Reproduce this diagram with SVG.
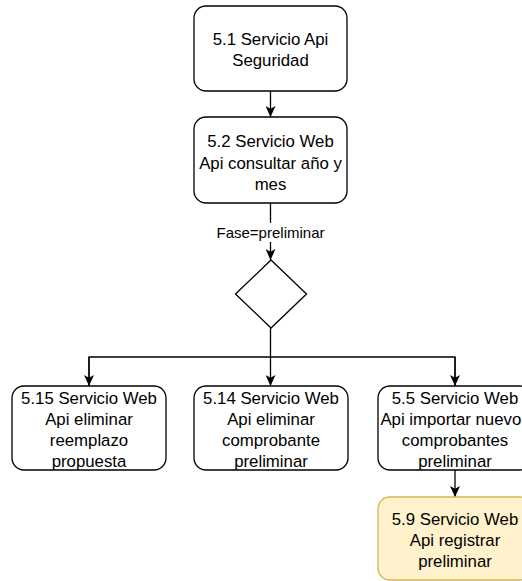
<svg xmlns="http://www.w3.org/2000/svg" width="522" height="581" viewBox="0 0 522 581">
<style>
.box{fill:#ffffff;stroke:#000000;stroke-width:1.3}
.yel{fill:#fff2cc;stroke:#d6b656;stroke-width:1.3}
.t{font-family:"Liberation Sans",Arial,Helvetica,sans-serif;font-size:16.8px;fill:#000000;text-anchor:middle}
.lbl{font-family:"Liberation Sans",Arial,Helvetica,sans-serif;font-size:15px;fill:#000000;text-anchor:middle}
.c{fill:none;stroke:#000000;stroke-width:1.3}
</style>
<defs>
<marker id="arr" viewBox="0 0 11 10" refX="11" refY="5" markerWidth="11" markerHeight="10" orient="auto" markerUnits="userSpaceOnUse">
<path d="M0,0 L11,5 L0,10 L2.8,5 Z" fill="#000000"/>
</marker>
</defs>
<g id="connectors">
<line class="c" x1="270.5" y1="91" x2="270.5" y2="117" marker-end="url(#arr)"/>
<line class="c" x1="270.5" y1="203" x2="270.5" y2="260" marker-end="url(#arr)"/>
<rect x="214" y="223" width="113" height="19" fill="#ffffff"/>
<text class="lbl" x="270.5" y="238">Fase=preliminar</text>
<polyline class="c" points="270.5,328 270.5,357"/>
<polyline class="c" points="89,386 89,357 455,357 455,386"/>
<line class="c" x1="89" y1="357" x2="89" y2="386" marker-end="url(#arr)"/>
<line class="c" x1="270.5" y1="357" x2="270.5" y2="386" marker-end="url(#arr)"/>
<line class="c" x1="455" y1="357" x2="455" y2="386" marker-end="url(#arr)"/>
<line class="c" x1="455" y1="470" x2="455" y2="497" marker-end="url(#arr)"/>
</g>
<g id="n51">
<rect class="box" x="194" y="6" width="153" height="85" rx="12"/>
<text class="t" x="270.5" y="44.5">5.1 Servicio Api</text>
<text class="t" x="270.5" y="65.5">Seguridad</text>
</g>
<g id="n52">
<rect class="box" x="194" y="117" width="153" height="86" rx="12"/>
<text class="t" x="270.5" y="147">5.2 Servicio Web</text>
<text class="t" x="270.5" y="168.5">Api consultar año y</text>
<text class="t" x="270.5" y="190">mes</text>
</g>
<g id="decision">
<polygon class="box" points="271,260 306.5,294 271,328 235.5,294"/>
</g>
<g id="n515">
<rect class="box" x="12" y="386" width="154" height="84" rx="12"/>
<text class="t" x="89" y="403.5">5.15 Servicio Web</text>
<text class="t" x="89" y="424.5">Api eliminar</text>
<text class="t" x="89" y="445.5">reemplazo</text>
<text class="t" x="89" y="466.5">propuesta</text>
</g>
<g id="n514">
<rect class="box" x="194" y="386" width="154" height="84" rx="12"/>
<text class="t" x="271" y="403.5">5.14 Servicio Web</text>
<text class="t" x="271" y="424.5">Api eliminar</text>
<text class="t" x="271" y="445.5">comprobante</text>
<text class="t" x="271" y="466.5">preliminar</text>
</g>
<g id="n55">
<rect class="box" x="378" y="386" width="154" height="84" rx="12"/>
<text class="t" x="455" y="403.5">5.5 Servicio Web</text>
<text class="t" x="455" y="424.5">Api importar nuevos</text>
<text class="t" x="455" y="445.5">comprobantes</text>
<text class="t" x="455" y="466.5">preliminar</text>
</g>
<g id="n59">
<rect class="yel" x="378" y="497" width="154" height="83" rx="12"/>
<text class="t" x="455" y="525">5.9 Servicio Web</text>
<text class="t" x="455" y="546">Api registrar</text>
<text class="t" x="455" y="567">preliminar</text>
</g>
</svg>
